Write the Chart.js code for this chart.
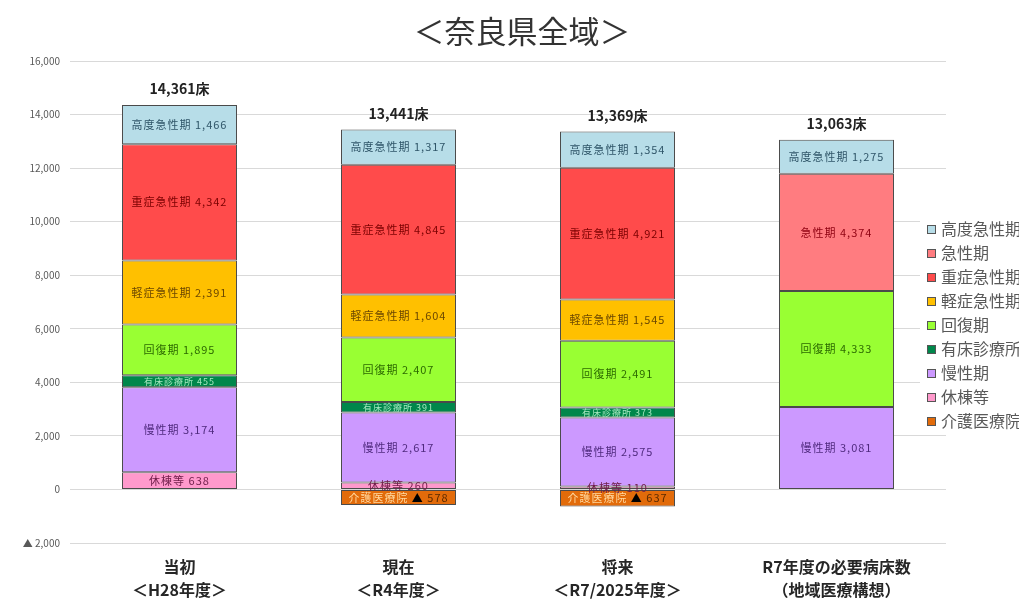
<!DOCTYPE html>
<html lang="ja">
<head>
<meta charset="utf-8">
<title>奈良県全域 病床数</title>
<script src="https://cdn.jsdelivr.net/npm/chart.js@4/dist/chart.umd.min.js"></script>
<style>
  html, body { margin: 0; padding: 0; background: #fff; overflow: hidden; }
  #wrap { width: 1019px; height: 605px; position: relative; }
</style>
</head>
<body>
<div id="wrap"><canvas id="beds" width="1019" height="605"></canvas></div>
<script>
var chartTitle = '＜奈良県全域＞';

var categories = [
    ['当初', '＜H28年度＞'],
    ['現在', '＜R4年度＞'],
    ['将来', '＜R7/2025年度＞'],
    ['R7年度の必要病床数', '（地域医療構想）']
];

// stacked from the bottom up
var kaigo     = [null, -578, -637, null];   // 介護医療院
var kyuto     = [638, 260, 110, null];      // 休棟等
var mansei    = [3174, 2617, 2575, 3081];   // 慢性期
var yusho     = [455, 391, 373, null];      // 有床診療所
var kaifuku   = [1895, 2407, 2491, 4333];   // 回復期
var keisho    = [2391, 1604, 1545, null];   // 軽症急性期
var jusho     = [4342, 4845, 4921, null];   // 重症急性期
var kyusei    = [null, null, null, 4374];   // 急性期
var kodo      = [1466, 1317, 1354, 1275];   // 高度急性期

var yTicks = { min: -2000, max: 16000, step: 2000 };

function ds(label, data, bg, textColor, fontSize) {
    return {
        label: label,
        data: data,
        backgroundColor: bg,
        borderColor: '#4a4a4a',
        borderWidth: 1,
        borderSkipped: false,
        textColor: textColor,
        textSize: fontSize || 11
    };
}

var datasets = [
    ds('介護医療院', kaigo, '#e26b0a', '#ffd9a0'),
    ds('休棟等', kyuto, '#ff99cc', '#6e1d48'),
    ds('慢性期', mansei, '#cc99ff', '#4f2a7e'),
    ds('有床診療所', yusho, '#00874b', '#a6e8c0', 9),
    ds('回復期', kaifuku, '#99ff33', '#2c6a00'),
    ds('軽症急性期', keisho, '#ffc000', '#6b4700'),
    ds('重症急性期', jusho, '#ff4b4b', '#7a0000'),
    ds('急性期', kyusei, '#ff7c80', '#8e0010'),
    ds('高度急性期', kodo, '#b7dde8', '#2f5568')
];

function fmt(v) {
    return Math.abs(v).toLocaleString('en-US');
}

// heading, drawn by hand so it can sit off the plot's centre
var heading = {
    id: 'heading',
    afterDraw: function(chart) {
        var ctx = chart.ctx;
        ctx.save();
        ctx.font = '31px "Noto Sans CJK JP"';
        ctx.fillStyle = '#333';
        ctx.textAlign = 'center';
        ctx.textBaseline = 'middle';
        ctx.fillText(chartTitle, 522, 31);
        ctx.restore();
    }
};

// value text inside each segment
var segmentLabels = {
    id: 'segmentLabels',
    afterDatasetsDraw: function(chart) {
        var ctx = chart.ctx;
        ctx.save();
        ctx.textAlign = 'center';
        ctx.textBaseline = 'middle';
        ctx.letterSpacing = '1px';
        chart.data.datasets.forEach(function(d, i) {
            var meta = chart.getDatasetMeta(i);
            meta.data.forEach(function(bar, j) {
                var v = d.data[j];
                if (v === null || v === undefined) return;
                var y = (bar.y + bar.base) / 2;
                ctx.font = d.textSize + 'px "Noto Sans CJK JP"';
                if (v < 0) {
                    var a = d.label + ' ';
                    var b = '▲';
                    var c = ' ' + fmt(v);
                    var wa = ctx.measureText(a).width;
                    var wb = ctx.measureText(b).width;
                    var wc = ctx.measureText(c).width;
                    var x0 = bar.x - (wa + wb + wc) / 2;
                    ctx.textAlign = 'left';
                    ctx.fillStyle = d.textColor;
                    ctx.fillText(a, x0, y);
                    ctx.fillStyle = '#000';
                    ctx.fillText(b, x0 + wa, y);
                    ctx.fillStyle = '#5a2a00';
                    ctx.fillText(c, x0 + wa + wb, y);
                    ctx.textAlign = 'center';
                } else {
                    ctx.fillStyle = d.textColor;
                    ctx.fillText(d.label + ' ' + fmt(v), bar.x, y);
                }
            });
        });
        ctx.restore();
    }
};

// bed totals above each bar (positive segments only)
var totalLabels = {
    id: 'totalLabels',
    afterDatasetsDraw: function(chart) {
        var ctx = chart.ctx;
        var yScale = chart.scales.y;
        var top = chart.getDatasetMeta(chart.data.datasets.length - 1);
        ctx.save();
        ctx.font = 'bold 14px "Noto Sans CJK JP"';
        ctx.fillStyle = '#222';
        ctx.textAlign = 'center';
        ctx.textBaseline = 'middle';
        categories.forEach(function(c, j) {
            var sum = 0;
            chart.data.datasets.forEach(function(d) {
                var v = d.data[j];
                if (v > 0) sum += v;
            });
            var x = top.data[j].x;
            ctx.fillText(sum.toLocaleString('en-US') + '床', x, yScale.getPixelForValue(sum) - 16);
        });
        ctx.restore();
    }
};

// legend on the right, top item first
var sideLegend = {
    id: 'sideLegend',
    afterDraw: function(chart) {
        var ctx = chart.ctx;
        var items = chart.data.datasets.slice().reverse();
        ctx.save();
        ctx.font = '16px "Noto Sans CJK JP"';
        ctx.textBaseline = 'middle';
        ctx.textAlign = 'left';
        items.forEach(function(d, k) {
            var y = 229 + k * 24;
            ctx.fillStyle = '#fff';
            ctx.fillRect(920, y - 11, 99, 22);
            ctx.fillStyle = d.backgroundColor;
            ctx.fillRect(927, y - 4, 9, 9);
            ctx.strokeStyle = '#555';
            ctx.lineWidth = 1;
            ctx.strokeRect(927.5, y - 3.5, 8, 8);
            ctx.fillStyle = '#595959';
            ctx.fillText(d.label, 941, y);
        });
        ctx.restore();
    }
};

var ctx = document.getElementById('beds').getContext('2d');
var bedChart = new Chart(ctx, {
    type: 'bar',
    data: {
        labels: categories,
        datasets: datasets
    },
    plugins: [heading, segmentLabels, totalLabels, sideLegend],
    options: {
        responsive: false,
        animation: false,
        layout: {
            padding: { left: 0, right: 73, top: 61, bottom: 0 }
        },
        datasets: {
            bar: {
                barPercentage: 0.525,
                categoryPercentage: 1
            }
        },
        scales: {
            x: {
                stacked: true,
                grid: { display: false, drawTicks: false },
                border: { display: false },
                afterFit: function(scale) { scale.height = 62; },
                ticks: {
                    padding: 12,
                    color: '#262626',
                    font: { family: '"Noto Sans CJK JP"', size: 16, weight: 'bold', lineHeight: 1.45 }
                }
            },
            y: {
                stacked: true,
                min: yTicks.min,
                max: yTicks.max,
                border: { display: false },
                grid: { color: '#d9d9d9', drawTicks: false },
                afterFit: function(scale) { scale.width = 70; },
                ticks: {
                    stepSize: yTicks.step,
                    padding: 10,
                    color: '#595959',
                    font: { family: '"Noto Sans CJK JP"', size: 10 },
                    callback: function(v) {
                        return v < 0 ? '▲ ' + fmt(v) : fmt(v);
                    }
                }
            }
        },
        plugins: {
            legend: { display: false },
            tooltip: { enabled: false },
            title: { display: false }
        }
    }
});
</script>
</body>
</html>
